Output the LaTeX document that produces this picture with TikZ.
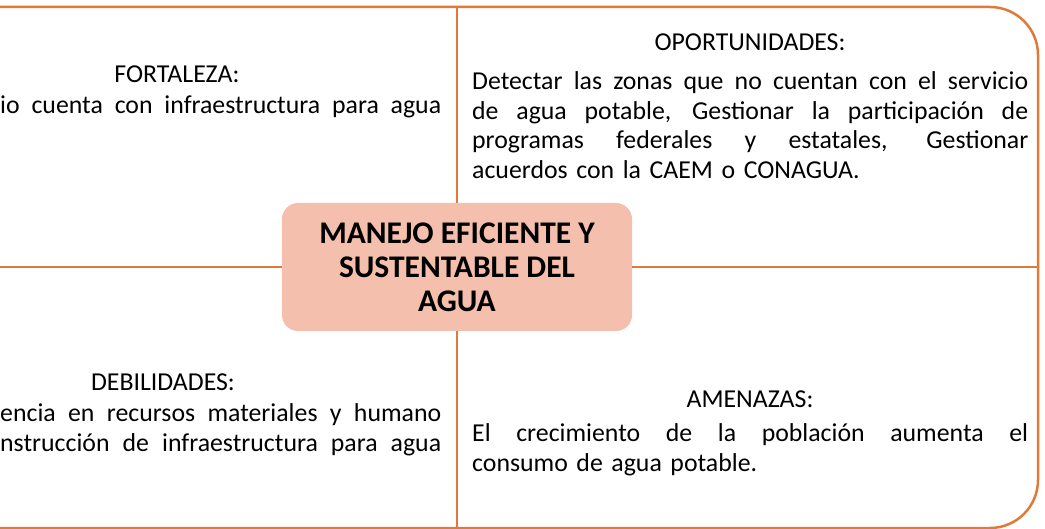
\documentclass[tikz,border=0pt]{standalone}
\usepackage{fontspec}
\setmainfont{Carlito}
\definecolor{lineorange}{HTML}{E07A38}
\definecolor{hubsalmon}{HTML}{F4BFAC}
\newcommand{\jline}[2][556pt]{\leavevmode\hbox to #1{\spaceskip=.226em plus 1fil\relax #2}}

\begin{document}
\begin{tikzpicture}[x=1pt, y=1pt,
  frame/.style={draw=lineorange, line width=2.5pt},
  hub/.style={fill=hubsalmon, rounded corners=16pt, minimum width=350pt, minimum height=128pt,
    align=center, font=\fontsize{31.5}{34}\selectfont\bfseries},
  heading/.style={inner sep=0pt, anchor=base, font=\fontsize{25.8}{29.5}\selectfont},
  para/.style={inner sep=0pt, anchor=base west, align=left, font=\fontsize{25.8}{29.5}\selectfont}]
  \useasboundingbox (0,0) rectangle (1045,-529);
  \clip (0,0) rectangle (1045,-529);
  % outer frame, its left side lies outside the picture
  \draw[frame, rounded corners=48pt] (-300,-7) rectangle (1038,-528);
  \node[hub] (hub) at (457,-267) {MANEJO EFICIENTE Y\\SUSTENTABLE DEL\\AGUA};
  \coordinate (topedge) at (457,-7);
  \coordinate (bottomedge) at (457,-528);
  \coordinate (leftedge) at (-300,-267);
  \coordinate (rightedge) at (1038,-267);
  \foreach \e in {topedge,bottomedge,leftedge,rightedge}
    \draw[frame] (hub) -- (\e);

  % quadrants
  \node[heading] (fortTitle) at (177,-83) {FORTALEZA:};
  \node[para, text width=441pt] (fortText) at (0,-114)
    {\jline[441pt]{io cuenta con infraestructura para agua}};
  \node[heading] (oporTitle) at (750,-51) {OPORTUNIDADES:};
  \node[para, text width=556pt] (oporText) at (472,-90)
    {\jline{Detectar las zonas que no cuentan con el servicio}\\
     \jline{de agua potable, Gestionar la participación de}\\
     \jline{programas federales y estatales, Gestionar}\\
     acuerdos con la CAEM o CONAGUA.};
  \node[heading] (debTitle) at (163,-391) {DEBILIDADES:};
  \node[para, text width=441pt] (debText) at (0,-422)
    {\jline[441pt]{encia en recursos materiales y humano}\\
     \jline[441pt]{nstrucción de infraestructura para agua}};
  \node[heading] (amenTitle) at (750,-408) {AMENAZAS:};
  \node[para, text width=556pt] (amenText) at (472,-442)
    {\jline{El crecimiento de la población aumenta el}\\
     consumo de agua potable.};
\end{tikzpicture}
\end{document}
